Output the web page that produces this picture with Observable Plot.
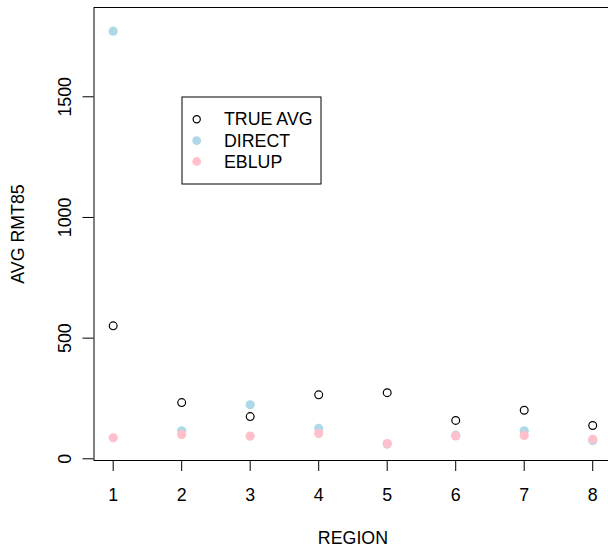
<!DOCTYPE html>
<html>
<head>
<meta charset="utf-8">
<script src="https://cdn.jsdelivr.net/npm/d3@7"></script>
<script src="https://cdn.jsdelivr.net/npm/@observablehq/plot@0.6"></script>
<style>
  html, body { margin: 0; padding: 0; background: #fff; }
  #chart svg { display: block; font-family: "Liberation Sans", Arial, sans-serif; }
</style>
</head>
<body>
<div id="chart"></div>
<script>
const regions = [1, 2, 3, 4, 5, 6, 7, 8];
const trueAvg = [551, 233, 175, 265, 274, 159, 201, 138];
const direct  = [1772, 116, 224, 126, 61, 98, 116, 76];
const eblup   = [87, 101, 94, 105, 63, 95, 97, 81];
const xTicks = [1, 2, 3, 4, 5, 6, 7, 8];
const yTicks = [0, 500, 1000, 1500];
const seriesNames = ["TRUE AVG", "DIRECT", "EBLUP"];
const seriesColors = ["black", "#ADD8E6", "#FFC0CB"];

const rows = (vals) => regions.map((r, i) => ({region: r, value: vals[i]}));
const fs = 17.8;

const chart = Plot.plot({
  width: 608,
  height: 547,
  marginLeft: 93.5,
  marginRight: -3.4,
  marginTop: 7,
  marginBottom: 87,
  style: {fontFamily: '"Liberation Sans", Arial, sans-serif', fontSize: fs + "px", background: "white", color: "black", overflow: "visible"},
  x: {domain: [0.72, 8.28]},
  y: {domain: [-7, 1870]},
  marks: [
    Plot.frame({stroke: "black", strokeWidth: 1}),
    Plot.axisX(xTicks, {tickSize: 11, tickPadding: 17, fontSize: fs, label: null, tickFormat: d => String(d)}),
    Plot.axisY(yTicks, {tickSize: 11, tickFormat: () => "", label: null}),
    Plot.text(yTicks, {y: d => d, text: d => String(d), frameAnchor: "left", dx: -29.2, rotate: -90, textAnchor: "middle", lineAnchor: "middle", fontSize: fs}),
    Plot.text(["AVG RMT85"], {frameAnchor: "left", dx: -76, rotate: -90, textAnchor: "middle", lineAnchor: "middle", fontSize: fs}),
    Plot.text(["REGION"], {frameAnchor: "bottom", dy: 78, textAnchor: "middle", lineAnchor: "middle", fontSize: fs}),
    Plot.dot(rows(trueAvg), {x: "region", y: "value", r: 3.9, stroke: seriesColors[0], strokeWidth: 1.2, fill: "none"}),
    Plot.dot(rows(direct), {x: "region", y: "value", r: 4.6, fill: seriesColors[1], stroke: "none"}),
    Plot.dot(rows(eblup), {x: "region", y: "value", r: 4.6, fill: seriesColors[2], stroke: "none"})
  ]
});

document.getElementById("chart").appendChild(chart);

// Legend box (R-style legend inside the plot)
const svg = d3.select(chart);
const lg = svg.append("g").attr("font-size", fs + "px")
  .attr("font-family", '"Liberation Sans", Arial, sans-serif')
  .attr("text-anchor", "start");
lg.append("rect").attr("x", 182).attr("y", 97).attr("width", 139).attr("height", 87)
  .attr("fill", "white").attr("stroke", "black").attr("stroke-width", 1);
const itemY = [119.3, 140.7, 161.5];
seriesNames.forEach((name, i) => {
  if (i === 0) {
    lg.append("circle").attr("cx", 196.7).attr("cy", itemY[i]).attr("r", 3.6)
      .attr("fill", "none").attr("stroke", "black").attr("stroke-width", 1.2);
  } else {
    lg.append("circle").attr("cx", 196.7).attr("cy", itemY[i]).attr("r", 4.4)
      .attr("fill", seriesColors[i]);
  }
  lg.append("text").attr("x", 224).attr("y", itemY[i] + 6)
    .attr("text-anchor", "start").attr("fill", "black").text(name);
});
</script>
</body>
</html>
